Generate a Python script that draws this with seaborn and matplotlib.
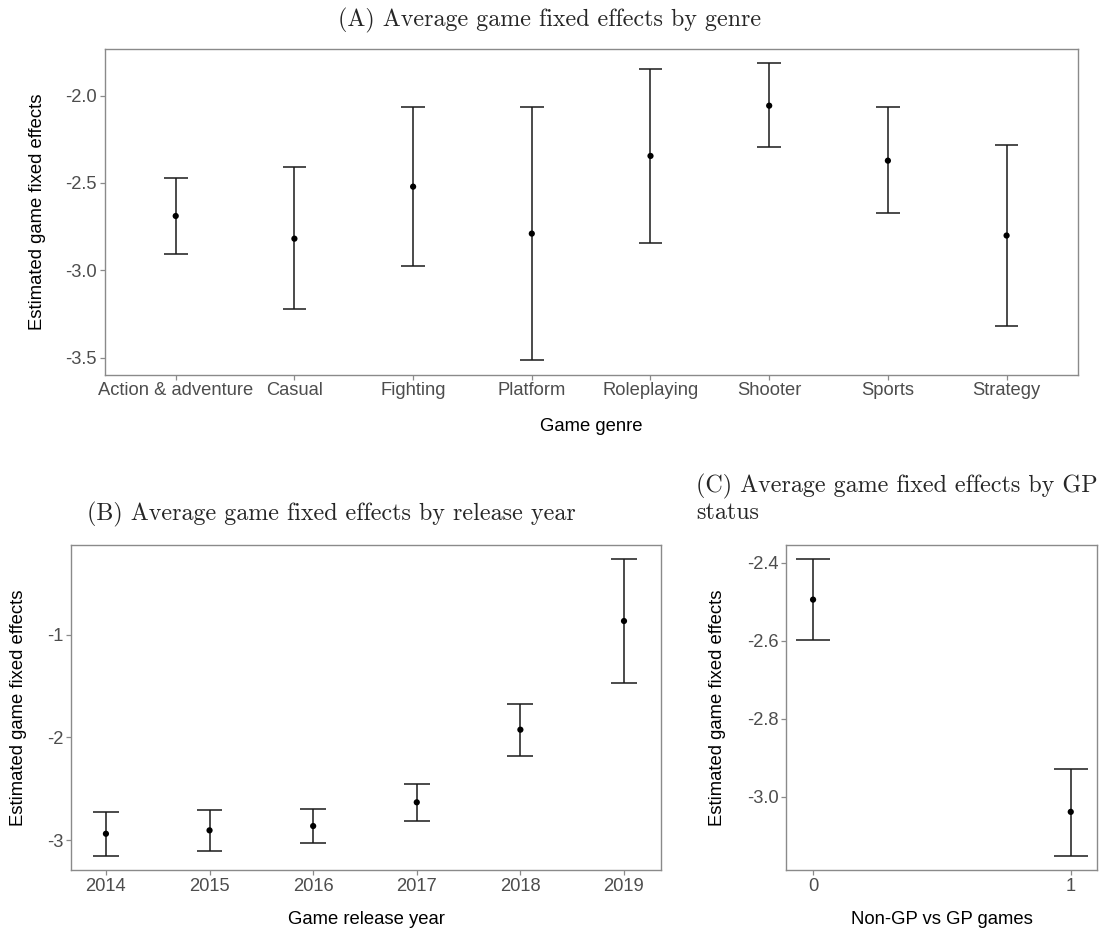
import matplotlib
matplotlib.use("Agg")
import matplotlib.pyplot as plt
import seaborn as sns
import pandas as pd

# Panel A: game fixed effects by genre (mean with 95% interval)
genres = ["Action & adventure", "Casual", "Fighting", "Platform",
          "Roleplaying", "Shooter", "Sports", "Strategy"]
genre_mean = [-2.689, -2.819, -2.521, -2.790, -2.345, -2.057, -2.372, -2.801]
genre_low = [-2.908, -3.223, -2.973, -3.515, -2.843, -2.294, -2.673, -3.317]
genre_high = [-2.469, -2.410, -2.066, -2.065, -1.845, -1.815, -2.065, -2.282]

# Panel B: by release year
years = [2014, 2015, 2016, 2017, 2018, 2019]
year_mean = [-2.938, -2.905, -2.863, -2.632, -1.925, -0.867]
year_low = [-3.152, -3.103, -3.025, -2.814, -2.178, -1.470]
year_high = [-2.726, -2.707, -2.700, -2.451, -1.672, -0.260]

# Panel C: by GP status
gp_status = [0, 1]
gp_mean = [-2.495, -3.039]
gp_low = [-2.599, -3.151]
gp_high = [-2.390, -2.928]

sns.set_theme(style="white")
plt.rcParams["font.family"] = ["Liberation Sans", "DejaVu Sans"]
plt.rcParams["axes.unicode_minus"] = False

TICK_SIZE = 13.2
LABEL_SIZE = 13.3
TITLE_SIZE = 17.3
TICK_COLOR = "#4d4d4d"
BORDER = "#8a8a8a"
TITLE_FONT = "cmr10"

W, H = 1107, 935
fig = plt.figure(figsize=(W / 100, H / 100), dpi=100)


def px_axes(left, right, top, bottom):
    return fig.add_axes([left / W, 1 - bottom / H, (right - left) / W, (bottom - top) / H])


def draw_panel(ax, x, mean, low, high, cap_half):
    df = pd.DataFrame({"x": x, "mean": mean, "low": low, "high": high})
    ax.vlines(df["x"], df["low"], df["high"], color="#1a1a1a", lw=1.1, zorder=2)
    ax.hlines(df["low"], df["x"] - cap_half, df["x"] + cap_half, color="#1a1a1a", lw=1.1, zorder=2)
    ax.hlines(df["high"], df["x"] - cap_half, df["x"] + cap_half, color="#1a1a1a", lw=1.1, zorder=2)
    sns.scatterplot(data=df, x="x", y="mean", ax=ax, color="black", s=20,
                    edgecolor="none", zorder=3, legend=False)
    for sp in ax.spines.values():
        sp.set_color(BORDER)
        sp.set_linewidth(1.0)
    ax.tick_params(axis="both", which="both", direction="out", length=3.5, width=0.9,
                   color=BORDER, labelcolor=TICK_COLOR, labelsize=TICK_SIZE, pad=2,
                   left=True, bottom=True)
    ax.grid(False)


def style_labels(ax, xlabel, ylabel, xlab_y, ylab_x):
    ax.set_xlabel(xlabel, fontsize=LABEL_SIZE, color="black", va="center")
    ax.set_ylabel(ylabel, fontsize=LABEL_SIZE, color="black", va="center")
    ax.xaxis.set_label_coords(0.5, xlab_y)
    ax.yaxis.set_label_coords(ylab_x, 0.5)


# ---- Panel A ----
axA = px_axes(104.5, 1077.8, 49.3, 374.8)
posA = list(range(len(genres)))
draw_panel(axA, posA, genre_mean, genre_low, genre_high, 0.1)
axA.set_xlim(-0.6, len(genres) - 0.4)
axA.set_ylim(-3.599, -1.734)
axA.set_xticks(posA)
axA.set_xticklabels(genres)
axA.set_yticks([-3.5, -3.0, -2.5, -2.0])
axA.set_yticklabels(["-3.5", "-3.0", "-2.5", "-2.0"])
style_labels(axA, "Game genre", "Estimated game fixed effects",
             -(426 - 374.8) / 325.5, -(104.5 - 38) / 973.3)

# ---- Panel B ----
axB = px_axes(70.7, 661.3, 545, 870)
draw_panel(axB, years, year_mean, year_low, year_high, 0.125)
axB.set_xlim(2013.66, 2019.36)
axB.set_ylim(-3.291, -0.127)
axB.set_xticks(years)
axB.set_xticklabels([str(y) for y in years])
axB.set_yticks([-3, -2, -1])
axB.set_yticklabels(["-3", "-2", "-1"])
style_labels(axB, "Game release year", "Estimated game fixed effects",
             -(920 - 870) / 325, -(70.7 - 18) / 590.6)

# ---- Panel C ----
axC = px_axes(786, 1097.3, 545, 870)
draw_panel(axC, gp_status, gp_mean, gp_low, gp_high, 0.066)
axC.set_xlim(-0.105, 1.103)
axC.set_ylim(-3.188, -2.355)
axC.set_xticks(gp_status)
axC.set_xticklabels(["0", "1"])
axC.set_yticks([-3.0, -2.8, -2.6, -2.4])
axC.set_yticklabels(["-3.0", "-2.8", "-2.6", "-2.4"])
style_labels(axC, "Non-GP vs GP games", "Estimated game fixed effects",
             -(920 - 870) / 325, -(786 - 717) / 311.3)

# ---- Titles ----
fig.text(550 / W, 1 - 26 / H, "(A) Average game fixed effects by genre",
         fontfamily=TITLE_FONT, fontsize=TITLE_SIZE, ha="center", va="baseline")
fig.text(331 / W, 1 - 520 / H, "(B) Average game fixed effects by release year",
         fontfamily=TITLE_FONT, fontsize=TITLE_SIZE, ha="center", va="baseline")
fig.text(696 / W, 1 - 519 / H, "(C) Average game fixed effects by GP\nstatus",
         fontfamily=TITLE_FONT, fontsize=TITLE_SIZE, ha="left", va="baseline",
         linespacing=1.15)

fig.savefig("out.png", dpi=100, facecolor="white")
